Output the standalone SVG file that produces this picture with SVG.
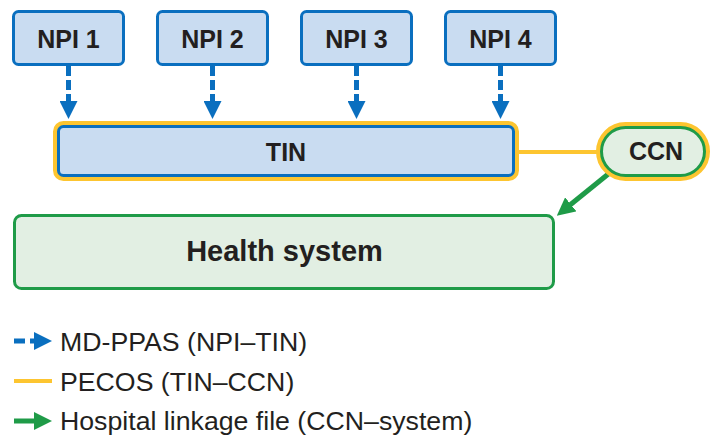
<svg xmlns="http://www.w3.org/2000/svg" width="711" height="436" viewBox="0 0 711 436">
<style>
.npi{fill:#C9DCF1;stroke:#0A6FBF;stroke-width:3}
.halo{fill:none;stroke:#FDC530;stroke-width:5}
.lbl{font-family:"Liberation Sans",Arial,sans-serif;font-weight:bold;font-size:25px;fill:#231F20;text-anchor:middle}
.leg{font-family:"Liberation Sans",Arial,sans-serif;font-size:26.7px;fill:#231F20}
.dash{fill:none;stroke:#0A6FBF;stroke-width:5;stroke-dasharray:10 4}
.pecos{fill:none;stroke:#FDC530;stroke-width:4}
.link{fill:none;stroke:#1F9B48;stroke-width:5}
</style>
<defs>
<marker id="ab" viewBox="0 0 18 18" refX="1" refY="9" markerWidth="18" markerHeight="18" markerUnits="userSpaceOnUse" orient="auto"><path d="M0,0 L18,9 L0,18 z" fill="#0A6FBF"/></marker>
<marker id="ag" viewBox="0 0 18 18" refX="1" refY="9" markerWidth="18" markerHeight="18" markerUnits="userSpaceOnUse" orient="auto"><path d="M0,0 L18,9 L0,18 z" fill="#1F9B48"/></marker>
</defs>
<g id="connectors">
<path class="dash" d="M68.5,66 V102" marker-end="url(#ab)"/>
<path class="dash" d="M212.5,66 V102" marker-end="url(#ab)"/>
<path class="dash" d="M356.5,66 V102" marker-end="url(#ab)"/>
<path class="dash" d="M500.5,66 V102" marker-end="url(#ab)"/>
<path class="pecos" d="M517,152 H600"/>
<path class="link" d="M612,171 L570,205" marker-end="url(#ag)"/>
</g>
<g id="npi1"><rect class="npi" x="13.5" y="11.5" width="110" height="53" rx="5"/><text class="lbl" x="68.5" y="48">NPI 1</text></g>
<g id="npi2"><rect class="npi" x="157.5" y="11.5" width="110" height="53" rx="5"/><text class="lbl" x="212.5" y="48">NPI 2</text></g>
<g id="npi3"><rect class="npi" x="301.5" y="11.5" width="110" height="53" rx="5"/><text class="lbl" x="356.5" y="48">NPI 3</text></g>
<g id="npi4"><rect class="npi" x="445.5" y="11.5" width="110" height="53" rx="5"/><text class="lbl" x="500.5" y="48">NPI 4</text></g>
<g id="tin">
<rect class="halo" x="55.5" y="123.5" width="461" height="55" rx="8"/>
<rect class="npi" x="58.5" y="126.5" width="455" height="49" rx="5"/>
<text class="lbl" x="286" y="161">TIN</text>
</g>
<g id="ccn">
<rect class="halo" x="598.5" y="124.5" width="109" height="54" rx="27"/>
<rect x="601.5" y="127.5" width="103" height="48" rx="24" fill="#E2EFE3" stroke="#1F9B48" stroke-width="3"/>
<text class="lbl" x="656" y="160">CCN</text>
</g>
<g id="health-system">
<rect x="14.5" y="215.5" width="539" height="73" rx="7" fill="#E2EFE3" stroke="#1F9B48" stroke-width="3"/>
<text class="lbl" x="284.5" y="261" style="font-size:29px">Health system</text>
</g>
<g id="legend">
<path d="M14,341 H35" fill="none" stroke="#0A6FBF" stroke-width="5" stroke-dasharray="11 5" marker-end="url(#ab)"/>
<text class="leg" x="60" y="351">MD-PPAS (NPI–TIN)</text>
<path class="pecos" d="M14,381 H52"/>
<text class="leg" x="60" y="390.5">PECOS (TIN–CCN)</text>
<path class="link" d="M14,421 H35" marker-end="url(#ag)"/>
<text class="leg" x="60" y="430">Hospital linkage file (CCN–system)</text>
</g>
</svg>
